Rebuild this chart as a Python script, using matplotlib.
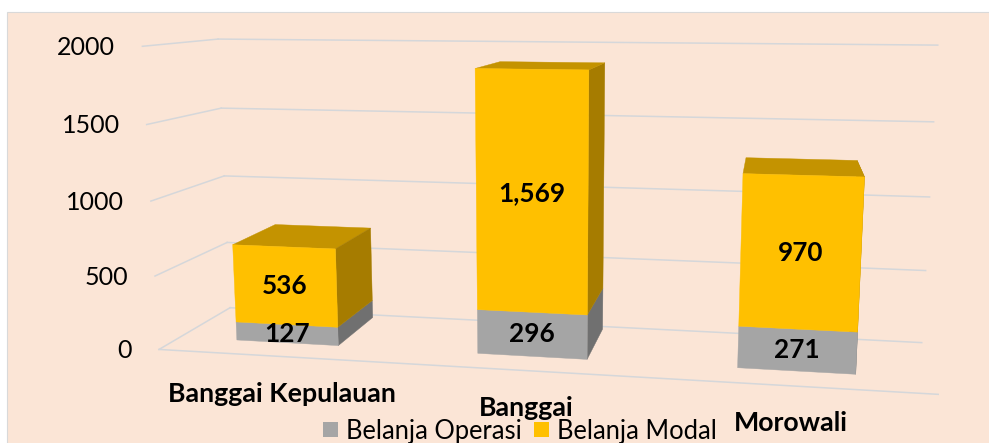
import matplotlib.pyplot as plt
from matplotlib.patches import Rectangle, Patch
from mpl_toolkits.mplot3d import proj3d
import numpy as np

plt.rcParams['font.family'] = ['Lato', 'DejaVu Sans']

# data
regions = ['Banggai Kepulauan', 'Banggai', 'Morowali']
belanja_operasi = [127, 296, 271]
belanja_modal = [536, 1569, 970]
value_ticks = [0, 500, 1000, 1500, 2000]
series_names = ['Belanja Operasi', 'Belanja Modal']

# colours (Excel-like)
BG = '#FBE5D6'
GRID = '#D5D7DA'
yel_front, yel_top, yel_side = '#FFC000', '#C49300', '#A67C00'
gry_front, gry_side = '#A5A5A5', '#707070'
clear = (0, 0, 0, 0)

W_PX, H_PX = 989, 443
fig = plt.figure(figsize=(W_PX / 100, H_PX / 100), dpi=100, facecolor='white')
fig.patches.append(Rectangle((7 / W_PX, -0.02), 1.0, 1.02 - 12 / H_PX,
                             transform=fig.transFigure, facecolor=BG,
                             edgecolor='#D9D9D9', lw=0.8, zorder=-5))

# square 3d axes, bigger than the figure, so the scene fills the wide strip
side = 812
cx, cy = 544, H_PX - 199
org = 0.095 / 0.185
ax = fig.add_axes([(cx - org * side) / W_PX, (cy - org * side) / H_PX,
                   side / W_PX, side / H_PX],
                  projection='3d', proj_type='persp', focal_length=0.2815,
                  computed_zorder=False)
ax.set_facecolor(clear)
ax.set_axis_off()

# scene geometry
x_lo, x_hi = -0.46, 2.5
floor_depth = 0.65
bar_w, bar_d, bar_y = 0.43, 0.43, 0.18
ax.set_xlim(x_lo, x_hi)
ax.set_ylim(0, floor_depth)
ax.set_zlim(0, max(value_ticks))
ax.set_box_aspect((x_hi - x_lo, floor_depth, 1.185))
ax.view_init(elev=9.8, azim=-79.4)

# walls / floor gridlines
for v in value_ticks:
    ax.plot([x_lo, x_lo], [0, floor_depth], [v, v], color=GRID, lw=1.1, zorder=1)
    ax.plot([x_lo, x_hi], [floor_depth, floor_depth], [v, v], color=GRID, lw=1.1, zorder=1)
ax.plot([x_lo, x_hi], [0, 0], [0, 0], color=GRID, lw=1.1, zorder=1)

# stacked bars in one collection so faces sort together
n = len(regions)
xpos = np.arange(n)
xs = np.concatenate([xpos - bar_w / 2, xpos - bar_w / 2])
ys = np.full(2 * n, bar_y)
zs = np.concatenate([np.zeros(n), belanja_operasi])
dz = np.concatenate([belanja_operasi, belanja_modal])
# face order: bottom, top, front, back, left, right
face_cols = []
for i in range(n):
    face_cols += [clear, clear, gry_front, clear, clear, gry_side]
for i in range(n):
    face_cols += [clear, yel_top, yel_front, clear, clear, yel_side]
ax.bar3d(xs, ys, zs, bar_w, bar_d, dz, color=face_cols, edgecolor=face_cols,
         linewidth=0.3, shade=False, zorder=2)

# data labels on the front faces
for i in range(n):
    ax.text(xpos[i], bar_y, belanja_operasi[i] / 2, f'{belanja_operasi[i]:,}',
            ha='center', va='center', fontsize=18.8, fontweight='bold', zorder=5)
    ax.text(xpos[i], bar_y, belanja_operasi[i] + belanja_modal[i] / 2,
            f'{belanja_modal[i]:,}', ha='center', va='center', fontsize=18.8,
            fontweight='bold', zorder=5)

# axis labels are placed in 2D next to projected anchor points
M = ax.get_proj()
for v in value_ticks:
    px, py, _ = proj3d.proj_transform(x_lo, 0, v, M)
    ax.annotate(str(v), (px, py), xytext=(-19.5, -1), textcoords='offset points',
                ha='right', va='center', fontsize=18, annotation_clip=False)

# category names hang below the foot of each bar
for i, name in enumerate(regions):
    px, py, _ = proj3d.proj_transform(xpos[i], bar_y, 0, M)
    ax.annotate(name, (px, py), xytext=(-4, -43), textcoords='offset points',
                ha='center', va='baseline', fontsize=19.3, fontweight='bold',
                annotation_clip=False)

handles = [Patch(facecolor=gry_front), Patch(facecolor=yel_front)]
fig.legend(handles, series_names, loc='center', ncol=2, frameon=False,
           bbox_to_anchor=(520 / W_PX, 1 - 431 / H_PX), fontsize=18.4,
           handlelength=0.57, handleheight=0.57, handletextpad=0.31,
           columnspacing=0.5, borderpad=0, borderaxespad=0)

fig.savefig('out.png', dpi=100, facecolor='white')
